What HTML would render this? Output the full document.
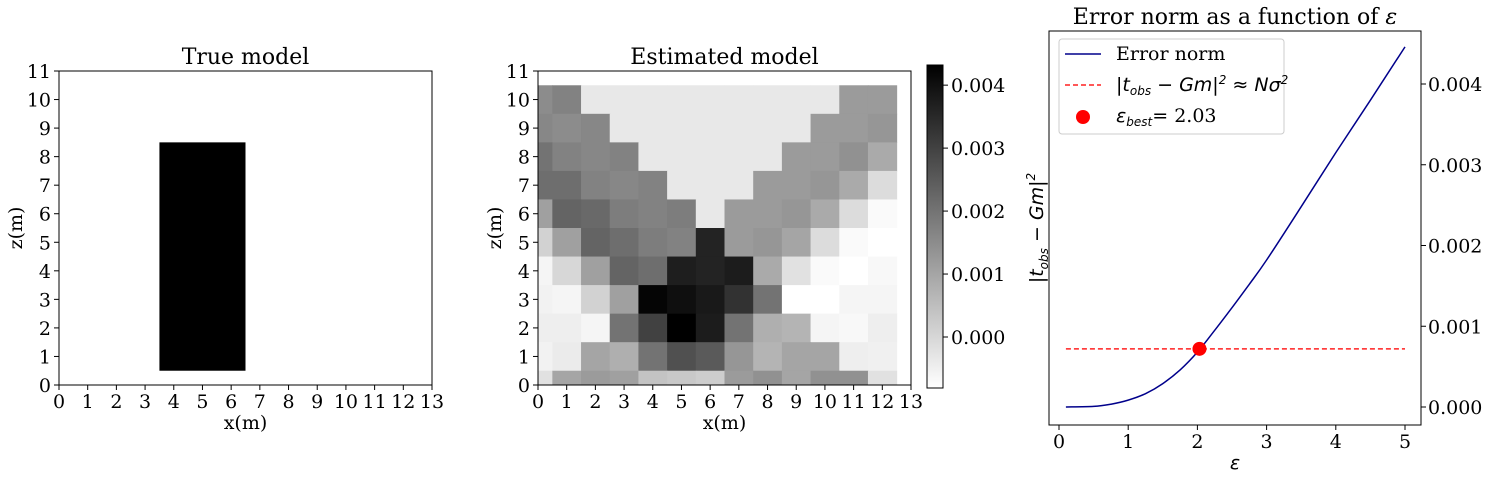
<!DOCTYPE html>
<html><head><meta charset="utf-8"><style>
body{margin:0;background:#fff;}
svg{display:block;font-family:"DejaVu Serif","Liberation Serif",serif;}
.t{font-size:19px;fill:#000}
.ti{font-size:22px;fill:#000}
.m{font-family:"DejaVu Sans","Liberation Sans",sans-serif;font-style:italic}
</style></head><body>
<svg id="fig" width="1487" height="479" viewBox="0 0 1487 479">
<g id="p1"></g>
<g id="p2"></g>
<g id="p3"></g>
</svg>
<script>
// ---------- data ----------
const xTicks=[0,1,2,3,4,5,6,7,8,9,10,11,12,13];
const zTicks=[0,1,2,3,4,5,6,7,8,9,10,11];
const trueBlock=[3.5,6.5,0.5,8.5]; // x0,x1,z0,z1
// estimated model values (x1e-3), rows from z=10 (top) down to z=0
const estRows=[
[1.50,1.70,-0.35,-0.35,-0.35,-0.35,-0.35,-0.35,-0.35,-0.35,-0.35,1.20,1.20],
[1.60,1.50,1.60,-0.35,-0.35,-0.35,-0.35,-0.35,-0.35,-0.35,1.20,1.20,1.30],
[2.01,1.70,1.60,1.70,-0.35,-0.35,-0.35,-0.35,-0.35,1.20,1.20,1.40,0.90],
[2.11,2.11,1.70,1.60,1.70,-0.35,-0.35,-0.35,1.20,1.20,1.30,0.90,-0.11],
[1.10,2.31,2.21,1.81,1.70,1.81,-0.35,1.20,1.20,1.30,0.90,-0.11,-0.71],
[0.10,1.10,2.31,2.11,1.81,1.70,3.62,1.20,1.30,1.00,-0.11,-0.71,-0.81],
[-0.61,0.00,1.10,2.31,2.11,3.72,3.62,3.76,0.90,-0.21,-0.71,-0.81,-0.67],
[-0.55,-0.61,0.10,1.10,4.22,4.02,3.82,3.31,2.01,-0.81,-0.81,-0.61,-0.61],
[-0.47,-0.47,-0.61,2.01,3.01,4.32,3.76,2.01,0.80,0.70,-0.61,-0.67,-0.47],
[-0.55,-0.41,1.00,0.80,2.01,2.71,2.51,1.30,0.70,1.00,1.00,-0.47,-0.50],
[-0.21,1.00,1.20,1.10,0.40,0.30,0.20,1.20,1.40,1.00,1.40,1.40,-0.21]];
const cbTicks=[0,1,2,3,4];
const cbLabels=["0.000","0.001","0.002","0.003","0.004"];
const vmin=-0.81,vmax=4.32;
const epsVals=[0.1,0.5,0.75,1,1.25,1.5,1.75,2,2.25,2.5,2.75,3,3.5,4,4.5,5];
const normVals=[0,0.008,0.035,0.085,0.165,0.29,0.46,0.68,0.95,1.23,1.52,1.82,2.48,3.15,3.8,4.46];
const sigmaLevel=0.72;
const epsBest=2.03;
const epsTicks=[0,1,2,3,4,5];
const normTicks=[0,1,2,3,4];
const normTickLabels=["0.000","0.001","0.002","0.003","0.004"];
// ---------- helpers ----------
const NS="http://www.w3.org/2000/svg";
function mk(p,tag,at,txt){const e=document.createElementNS(NS,tag);for(const k in at)e.setAttribute(k,at[k]);if(txt!==undefined)e.textContent=txt;p.appendChild(e);return e;}
function axesDecor(g,L,R,T,B,sx,sz,title){
 mk(g,"rect",{x:L,y:T,width:R-L,height:B-T,fill:"none",stroke:"#000","stroke-width":1});
 xTicks.forEach(v=>{mk(g,"line",{x1:sx(v),x2:sx(v),y1:B,y2:B+5,stroke:"#000"});
  const t=mk(g,"text",{x:sx(v),y:B+23,"text-anchor":"middle",class:"t"},v);
  
  });
 zTicks.forEach(v=>{mk(g,"line",{x1:L-5,x2:L,y1:sz(v),y2:sz(v),stroke:"#000"});
  const t=mk(g,"text",{x:L-8,y:sz(v)+7,"text-anchor":"end",class:"t"},v);
  
  });
 const tt=mk(g,"text",{x:(L+R)/2,y:T-7,"text-anchor":"middle",class:"ti"},title);
 
 
 const xl=mk(g,"text",{x:(L+R)/2,y:B+44,"text-anchor":"middle",class:"t"},"x(m)");
 
 
 const zl=mk(g,"text",{x:0,y:0,"text-anchor":"middle",class:"t",transform:`translate(${L-37},${(T+B)/2}) rotate(-90)`},"z(m)");
 
 
}
// ---------- panel 1 ----------
(function(){
 const g=document.getElementById("p1");const L=59,R=432,T=71,B=385;
 const sx=v=>L+(R-L)*v/13, sz=v=>B-(B-T)*v/11;
 const r=mk(g,"rect",{x:sx(trueBlock[0]),y:sz(trueBlock[3]),width:sx(trueBlock[1])-sx(trueBlock[0]),height:sz(trueBlock[2])-sz(trueBlock[3]),fill:"#000"});
 
 
 axesDecor(g,L,R,T,B,sx,sz,"True model");
})();
// ---------- panel 2 ----------
(function(){
 const g=document.getElementById("p2");const L=538,R=911,T=71,B=385;
 const sx=v=>L+(R-L)*v/13, sz=v=>B-(B-T)*v/11;
 const col=v=>{let f=(v-vmin)/(vmax-vmin);f=Math.max(0,Math.min(1,f));const c=Math.round(255*(1-f));return `rgb(${c},${c},${c})`;};
 const nr=estRows.length;
 estRows.forEach((row,ri)=>{const z=nr-1-ri;row.forEach((v,ci)=>{
  const x0=Math.max(0,ci-0.5),x1=ci+0.5,z0=Math.max(0,z-0.5),z1=z+0.5;
  const c=mk(g,"rect",{x:sx(x0),y:sz(z1),width:sx(x1)-sx(x0)+0.5,height:sz(z0)-sz(z1)+0.5,fill:col(v)});
  
  
 });});
 axesDecor(g,L,R,T,B,sx,sz,"Estimated model");
 const cL=927,cR=943,cT=65,cB=388;
 const cy=v=>cB-(cB-cT)*(v-vmin)/(vmax-vmin);
 const defs=mk(g,"defs",{});const lg=mk(defs,"linearGradient",{id:"cbg",x1:0,y1:1,x2:0,y2:0});
 mk(lg,"stop",{offset:0,"stop-color":"#fff"});mk(lg,"stop",{offset:1,"stop-color":"#000"});
 const cb=mk(g,"rect",{x:cL,y:cT,width:cR-cL,height:cB-cT,fill:"url(#cbg)",stroke:"#000"});
 
 
 cbTicks.forEach((v,i)=>{mk(g,"line",{x1:cR,x2:cR+5,y1:cy(v),y2:cy(v),stroke:"#000"});
  const t=mk(g,"text",{x:cR+8,y:cy(v)+7,class:"t"},cbLabels[i]);
  
  });
})();
// ---------- panel 3 ----------
(function(){
 const g=document.getElementById("p3");const L=1049,R=1421,T=31,B=425;
 const sx=v=>1059+v*69.2, sy=v=>407-v*80.75;
 mk(g,"rect",{x:L,y:T,width:R-L,height:B-T,fill:"none",stroke:"#000"});
 const dl=mk(g,"line",{x1:sx(epsVals[0]),x2:sx(epsVals[epsVals.length-1]),y1:sy(sigmaLevel),y2:sy(sigmaLevel),stroke:"#ff2020","stroke-width":1.5,"stroke-dasharray":"5,3"});
 
 
 const P=epsVals.map((e,i)=>[sx(e),sy(normVals[i])]);
 let d="M"+P[0][0].toFixed(1)+","+P[0][1].toFixed(1);
 for(let i=0;i<P.length-1;i++){const p0=P[Math.max(0,i-1)],p1=P[i],p2=P[i+1],p3=P[Math.min(P.length-1,i+2)];
  const c1=[p1[0]+(p2[0]-p0[0])/6,p1[1]+(p2[1]-p0[1])/6],c2=[p2[0]-(p3[0]-p1[0])/6,p2[1]-(p3[1]-p1[1])/6];
  d+=` C${c1[0].toFixed(1)},${c1[1].toFixed(1)} ${c2[0].toFixed(1)},${c2[1].toFixed(1)} ${p2[0].toFixed(1)},${p2[1].toFixed(1)}`;}
 const pl=mk(g,"path",{d:d,fill:"none",stroke:"#00008b","stroke-width":1.5});
 
 
 const dot=mk(g,"circle",{cx:sx(epsBest),cy:sy(sigmaLevel),r:7,fill:"#ff0000"});
 
 
 epsTicks.forEach(v=>{mk(g,"line",{x1:sx(v),x2:sx(v),y1:B,y2:B+5,stroke:"#000"});
  const t=mk(g,"text",{x:sx(v),y:B+23,"text-anchor":"middle",class:"t"},v);
  
  });
 normTicks.forEach((v,i)=>{mk(g,"line",{x1:R,x2:R+5,y1:sy(v),y2:sy(v),stroke:"#000"});
  const t=mk(g,"text",{x:R+7,y:sy(v)+7,class:"t"},normTickLabels[i]);
  
  });
 const tt=mk(g,"text",{x:1235,y:24,"text-anchor":"middle",class:"ti"});
 tt.innerHTML='Error norm as a function of <tspan font-style="italic">ε</tspan>';
 
 
 const xl=mk(g,"text",{x:1235,y:469,"text-anchor":"middle",class:"t m"},"ε");
 
 
 const yl=mk(g,"text",{x:0,y:0,"text-anchor":"middle",class:"t m",transform:"translate(1043,228) rotate(-90)"});
 yl.innerHTML='|t<tspan font-size="12" dy="5">obs</tspan><tspan dy="-5"> − Gm|</tspan><tspan font-size="12" dy="-8">2</tspan>';
 
 
 const lgd=mk(g,"g",{});
 
 
 mk(lgd,"rect",{x:1059,y:39,width:225,height:95,rx:3,fill:"#fff",stroke:"#ccc"});
 mk(lgd,"line",{x1:1065,x2:1101,y1:54,y2:54,stroke:"#00008b","stroke-width":1.5});
 mk(lgd,"text",{x:1116,y:60,class:"t"},"Error norm");
 mk(lgd,"line",{x1:1065,x2:1101,y1:85,y2:85,stroke:"#ff2020","stroke-width":1.5,"stroke-dasharray":"5,3"});
 const l2=mk(lgd,"text",{x:1116,y:91,class:"t m"});
 l2.innerHTML='|t<tspan font-size="12" dy="4">obs</tspan><tspan dy="-4"> − Gm|</tspan><tspan font-size="12" dy="-7">2</tspan><tspan dy="7"> ≈ Nσ</tspan><tspan font-size="12" dy="-7">2</tspan>';
 mk(lgd,"circle",{cx:1083,cy:117,r:7,fill:"#ff0000"});
 const l3=mk(lgd,"text",{x:1116,y:122,class:"t"});
 l3.innerHTML='<tspan class="m">ε</tspan><tspan class="m" font-size="12" dy="4">best</tspan><tspan dy="-4">= 2.03</tspan>';
})();
</script>
</body></html>
